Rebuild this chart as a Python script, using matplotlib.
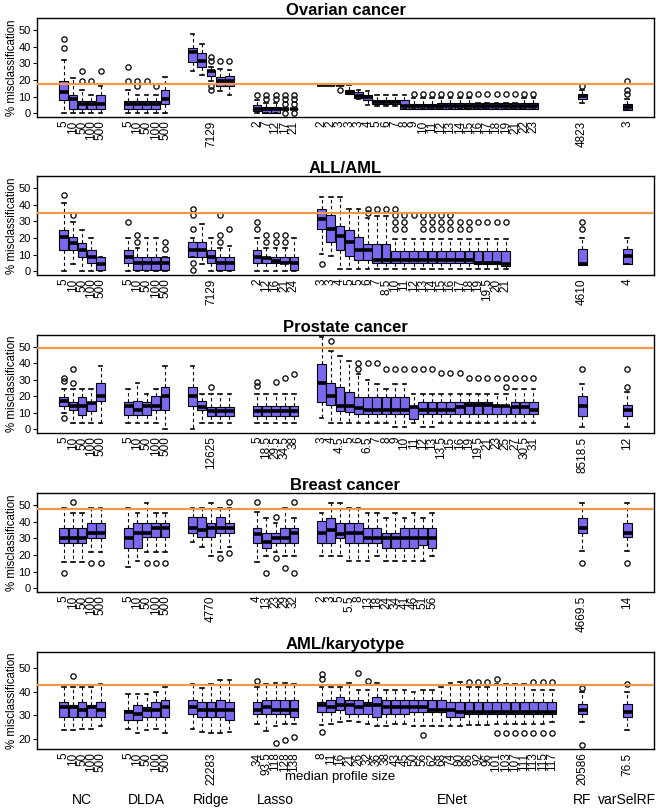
import matplotlib
matplotlib.use("Agg")
import matplotlib.pyplot as plt
from matplotlib.transforms import blended_transform_factory

plt.rcParams['font.family'] = ['Liberation Sans', 'DejaVu Sans']

# ---------------- data ----------------
GROUPS = ["NC", "DLDA", "Ridge", "Lasso", "ENet", "RF", "varSelRF"]
SIZE_LABELS = ["5", "10", "50", "100", "500"]
TITLES = ["Ovarian cancer", "ALL/AML", "Prostate cancer", "Breast cancer", "AML/karyotype"]
BASELINES = [17.6, 34.8, 49.3, 47.6, 43.0]
RIDGE_LABELS = ["7129", "7129", "12625", "4770", "22283"]
RF_LABELS = ["4823", "4610", "8518.5", "4669.5", "20586"]
VSRF_LABELS = ["3", "4", "12", "14", "76.5"]
LASSO_LABELS = [["2", "7", "12", "17", "21"],
                ["2", "12", "16", "21", "24"],
                ["5", "18.5", "29.5", "34.5", "38"],
                ["4", "13", "23", "29", "32"],
                ["34", "93.5", "118", "128", "138"]]
ENET_LABELS = [
    ["2", "2", "3", "3", "3", "4", "5", "6", "7", "8", "9", "10", "11", "12", "13", "14",
     "15", "16", "17", "18", "19", "21", "22", "23"],
    ["3", "3", "4", "5", "5", "6", "7", "8.5", "10", "11", "12", "13", "14", "15", "16",
     "17", "18", "19", "19.5", "20", "21"],
    ["3", "4", "4.5", "5", "6", "6.5", "7", "8", "9", "10", "11", "12", "13", "13.5", "15",
     "16", "19", "19.5", "21", "23", "25", "27", "30.5", "31"],
    ["2", "3", "5", "5.5", "8", "13", "18", "24", "34", "41", "46", "51", "56"],
    ["8", "11", "16", "21", "26", "32", "36", "38", "43", "45", "50", "56", "62", "68", "74",
     "80", "86", "92", "96", "101", "103", "107", "111", "113", "115", "117"],
]

# Ovarian cancer: order NC(5), DLDA(5), Ridge(5), Lasso(5), ENet(24), RF, varSelRF
OV_LO = [0, 0, 0, 0, 0, 0, 0, 0, 0, 0, 25.3, 23.3, 19.7, 13.3, 11.2, 0, 0, 0, 2.8, 2.8,
         16.9, 16.9, 16.9, 11.4, 8.5, 4.8, 4.6, 4.6, 4.6, 2.8, 2.8, 2.8, 2.8, 2.8, 2.8, 2.8,
         2.8, 2.8, 2.8, 2.8, 2.8, 2.8, 2.8, 2.8, 6.2, 2.2]
OV_Q1 = [8.2, 2.8, 2.8, 2.8, 2.8, 2.8, 2.8, 2.8, 2.8, 5.6, 30.9, 27.9, 22.3, 16.7, 16.7,
         1.6, 0.2, 0.2, 2.8, 2.8,
         16.9, 16.9, 16.9, 11.4, 9.4, 8.0, 5.6, 5.6, 5.6, 2.8, 2.8, 2.8, 2.8, 2.8, 2.8, 2.8,
         2.8, 2.8, 2.8, 2.8, 2.8, 2.8, 2.8, 2.8, 8.9, 2.2]
OV_MED = [12.7, 8.6, 5.6, 5.6, 5.6, 5.6, 5.6, 5.6, 5.6, 8.6, 36.7, 31.3, 25.3, 19.7, 19.7,
          2.8, 2.8, 2.8, 2.8, 2.8,
          16.9, 16.9, 16.9, 12.9, 10.6, 9.6, 6.6, 6.6, 6.6, 4.2, 4.2, 4.2, 4.2, 4.4, 4.4, 4.4,
          4.4, 4.4, 4.4, 4.4, 4.4, 4.4, 4.4, 4.4, 10.3, 3.7]
OV_Q3 = [19.7, 10.8, 7.6, 7.6, 10.8, 7.6, 7.6, 7.6, 7.6, 14.3, 39.4, 36.3, 25.9, 21.9, 22.3,
         5.2, 3.8, 3.8, 2.8, 2.8,
         16.9, 16.9, 16.9, 14.3, 12.7, 11.0, 8.2, 8.2, 8.2, 8.2, 5.6, 5.6, 5.6, 6.0, 6.0, 6.0,
         6.0, 6.0, 6.0, 6.0, 6.0, 6.0, 6.0, 6.0, 11.9, 5.8]
OV_HI = [32.0, 21.0, 13.9, 11.0, 16.7, 14.3, 11.0, 11.0, 11.0, 21.7, 47.4, 41.8, 27.7, 26.7,
         25.9, 8.2, 6.2, 6.2, 2.8, 2.8,
         16.9, 16.9, 16.9, 17.0, 14.3, 13.7, 11.0, 11.0, 11.0, 11.0, 9.2, 9.2, 9.2, 9.2, 9.2,
         9.2, 9.2, 6.0, 6.0, 6.0, 6.0, 6.0, 9.2, 9.2, 14.3, 8.7]
OV_OUT = [[39, 44.8], [], [19.7, 25.3], [19.7], [25.3],
          [19.7, 27.7], [16.7, 19.7], [19.7], [16.7], [],
          [], [], [31.3, 33.7, 16.7, 14.3], [31.3], [31.3],
          [11.2], [8.6, 11.2], [8.6, 11.2], [0.2, 5.6, 8.6, 11.2], [0.2, 5.6, 8.6, 11.2],
          [], [], [13.9], [], [], [], [], [], [], [],
          [11.8], [11.8], [11.8], [11.8], [11.8], [11.8], [11.8], [11.8], [11.8], [11.8],
          [11.8], [11.8], [11.8], [11.8],
          [16.7], [11.4, 14.3, 19.7]]

# ALL/AML: NC, DLDA, Ridge, Lasso, ENet(21), RF, varSelRF
AL_LO = [0, 4.5, 0, 0, 0, 0, 0, 0, 0, 0, 8.9, 4.5, 0, 0, 0, 0, 0, 0, 0, 0,
         10.5, 9.1, 1.6, 1.6, 1.6, 1.6, 1.6, 1.6, 1.6, 1.6, 1.6, 1.6, 1.6, 1.6, 1.6, 1.6,
         1.6, 1.6, 1.6, 1.6, 1.6, 4.0, 4.6]
AL_Q1 = [13, 13, 8.9, 4.9, 0.6, 4.9, 0.6, 0.6, 0.6, 0.6, 8.9, 8.9, 4.9, 0.6, 0.6,
         4.9, 4.9, 4.9, 4.9, 0.6,
         25.3, 17.4, 13.0, 9.1, 7.1, 7.1, 5.1, 5.1, 5.1, 5.1, 5.1, 5.1, 5.1, 5.1, 5.1, 5.1,
         5.1, 4.5, 4.5, 4.5, 3.0, 4.0, 4.6]
AL_MED = [20.9, 17, 13, 8.9, 4.5, 8.9, 4.9, 4.9, 4.9, 4.9, 13, 13, 8.9, 4.9, 4.9,
          8.9, 7.9, 6.5, 4.9, 4.9,
          31.6, 25.3, 21.3, 17.4, 13.0, 13.0, 7.1, 7.1, 7.1, 7.1, 7.1, 7.1, 7.1, 7.1, 7.1,
          7.1, 7.1, 5.1, 5.1, 5.1, 4.5, 4.6, 9.1]
AL_Q3 = [24.9, 20.9, 17, 13, 8.9, 13, 8.9, 8.9, 8.9, 8.9, 17.4, 17.4, 13, 8.9, 8.9,
         13, 8.9, 8.9, 8.9, 8.9,
         37.5, 33.6, 27.3, 24.9, 20.9, 16.4, 16.4, 16.4, 12.5, 12.5, 12.5, 12.5, 12.5, 12.5,
         12.5, 12.5, 12.5, 12.5, 12.5, 12.5, 12.5, 13.5, 13.5]
AL_HI = [41.1, 29.6, 24.7, 20, 8.9, 20, 13.8, 20, 20, 8.9, 20, 28.3, 20, 13.8, 15,
         20, 13.8, 13.8, 13.8, 20,
         44.7, 44.7, 44.7, 37.5, 37.5, 32.2, 33.2, 33.2, 19.4, 19.4, 19.4, 19.4, 19.4, 19.4,
         19.4, 19.4, 19.4, 19.4, 19.4, 19.4, 19.4, 20, 20]
AL_OUT = [[46], [33.6], [], [], [],
          [29.6], [17.4, 21.7], [], [], [13.4, 17.4],
          [25.7, 33.6, 37.5, 4.9, 0.6], [], [], [17.4, 21.7, 33.6], [25.7],
          [25.7, 29.6], [17.4, 21.7], [17.4, 21.7], [17.4, 21.7], [],
          [4.5], [], [], [], [], [35.2, 37.5], [37.5], [37.5],
          [25.3, 29.6, 33.6, 37.5], [25.3, 29.6, 33.6], [33.6], [25.3, 29.6, 33.6],
          [25.3, 29.6, 33.6], [25.3, 29.6, 33.6], [25.3, 29.6, 33.6], [25.3, 29.6],
          [25.3, 29.6], [29.6], [29.6], [29.6], [29.6],
          [25.3, 29.6], []]

# Prostate cancer: NC, DLDA, Ridge, Lasso, ENet(24), RF, varSelRF
PR_LO = [10, 3.8, 3.8, 3.8, 3.8, 3.8, 3.8, 3.8, 3.8, 0, 0, 3.8, 3.8, 3.8, 3.8,
         3.8, 3.8, 3.8, 3.8, 3.8,
         6.8, 3.8, 3.8, 3.8, 3.8, 3.8, 3.8, 3.8, 1.4, 1.4, 3.8, 1.4, 1.4, 3.8, 3.8, 3.8,
         3.8, 3.8, 3.8, 3.8, 3.8, 3.8, 3.8, 3.8, 1.4, 1.4]
PR_Q1 = [14.4, 12, 8.8, 11.4, 17.4, 8.8, 8.8, 8.8, 12, 12, 14, 12, 8.4, 8.4, 8.4,
         8.4, 8.4, 8.4, 8.4, 8.4,
         16.8, 14.8, 11.4, 10.4, 9.4, 9.4, 9.4, 9.4, 9.4, 9.4, 6.4, 9.4, 9.4, 9.4, 9.4, 9.4,
         9.4, 9.4, 9.4, 9.4, 9.4, 9.4, 9.4, 9.4, 8.4, 8.4]
PR_MED = [17.4, 14.4, 14.4, 15.8, 20, 14.4, 12, 14.4, 14.4, 20, 20, 13.4, 11.4, 11.4, 11.4,
          11.4, 11.4, 11.4, 11.4, 11.4,
          28.4, 20, 14, 14, 12.8, 12, 12, 12, 12, 12, 13.4, 12, 12, 12, 12, 13.4,
          14.8, 14.8, 14.8, 14, 14, 13.4, 13.4, 12, 14, 12]
PR_Q3 = [19.8, 16.4, 19.8, 16.4, 28.4, 16.4, 17.4, 16.4, 20, 25.4, 25.4, 17.4, 13.4, 13.4,
         13.4, 14, 14, 14, 14, 14,
         39.4, 28.4, 25.4, 22.8, 19.4, 19.4, 19.4, 19.4, 19.4, 19.4, 14.4, 16.8, 16.8, 16.8,
         16.8, 16.8, 16.8, 16.8, 16.8, 14.8, 14.4, 16.8, 16.8, 16.8, 20, 14.8]
PR_HI = [24.4, 24.4, 24.4, 24.4, 38.4, 24.4, 28.4, 21.4, 24.4, 38.4, 38.4, 21.4, 21.4,
         21.4, 21.4, 21.4, 21.4, 21.4, 21.4, 21.4,
         56, 47.4, 44.4, 41.4, 33.4, 30, 27.4, 24.4, 27.4, 27.4, 21.4, 21.4, 21.4, 21.4,
         21.4, 21.4, 21.4, 21.4, 21.4, 21.4, 21.4, 24.4, 24.4, 24.4, 27.4, 22.4]
PR_OUT = [[29.4, 31.4, 6.8], [28.4, 36.4], [], [], [],
          [], [], [], [], [],
          [], [], [25.4], [], [],
          [26.4, 28.8], [], [28.8], [31], [33.8],
          [], [53.4], [], [], [36.8, 40.4], [40.4], [40.4], [36.4], [36.4], [36.4],
          [36.4], [36.4], [36.4], [34], [34], [34], [31], [31], [31], [31], [25.4, 31],
          [31], [31], [31],
          [36.4], [25.4, 36.4]]

# Breast cancer: NC, DLDA, Ridge, Lasso, ENet(13), RF, varSelRF
BR_LO = [16, 16, 16, 22, 22, 12.6, 16.6, 22, 22, 22, 27.6, 25, 19.4, 22, 25,
         16, 19.4, 22, 19.4, 19.4,
         19.4, 19.4, 19.4, 16.4, 16.4, 16.4, 19.4, 16.4, 16.4, 16.4, 16.4, 16.4, 19.4,
         22.4, 22.4]
BR_Q1 = [27, 27, 27, 30, 30, 24, 24, 30.6, 30.6, 30.6, 33.4, 30.6, 30.6, 33.4, 33.4,
         27, 24, 27, 27, 27,
         27, 27.4, 30.4, 27.4, 27.4, 27.4, 27.4, 24.4, 24.4, 24.4, 24.4, 26, 24.4,
         33.4, 30.6]
BR_MED = [30.4, 30.4, 30.4, 33.4, 33.4, 30.4, 33.4, 33.4, 36.4, 36.4, 36.4, 35, 36.4,
          36.4, 36.4, 32.4, 27.6, 30.4, 30.4, 33.4,
          33.4, 35, 32.6, 33.4, 33.4, 30.4, 30.4, 30.4, 30.4, 30.4, 30.4, 30.4, 30.4,
          36.4, 33.4]
BR_Q3 = [36.4, 36.4, 36.4, 39.4, 39.4, 36.4, 39.4, 39.4, 39.4, 39.4, 42.6, 42.6, 39.4,
         42.6, 39.4, 36.4, 33.4, 33.4, 36.4, 36.4,
         40.4, 42.4, 39.4, 39.4, 39.4, 36.4, 36.4, 33.4, 33.4, 36.4, 36.4, 36.4, 36.4,
         42.4, 39.4]
BR_HI = [48, 45, 45, 48, 48, 48, 45, 51, 45, 45, 48, 48, 51, 48, 48,
         46, 42, 39, 48, 42,
         45, 51, 51, 48, 48, 45, 45, 42, 45, 42, 45, 42, 45,
         51, 51]
BR_OUT = [[9], [52], [], [15], [15],
          [], [], [15], [15], [15],
          [], [], [], [18], [52, 21.4],
          [52], [9], [42.6, 18], [12], [52, 9],
          [], [], [], [], [], [], [], [], [], [], [], [], [],
          [15.4], [15.4]]

# AML/karyotype: NC, DLDA, Ridge, Lasso, ENet(26), RF, varSelRF
AK_LO = [23.7, 23.7, 24, 24, 25.4, 24.4, 22.3, 23.7, 24, 22.3, 24.4, 23, 22.3, 22.3, 23,
         26.5, 23.4, 25.4, 26.5, 26.5,
         26, 26.5, 27.2, 27.5, 27.2, 26.5, 25.4, 25.4, 26.5, 26.5, 25.4, 25.4, 25.4, 25.4,
         25.4, 25.4, 25.8, 25.8, 25.8, 26.5, 26.5, 26.5, 26.5, 26.5, 26.5, 27.2,
         27.2, 23.7]
AK_Q1 = [29.3, 29.3, 29.3, 29.3, 29.3, 28.2, 28.2, 29.3, 29.3, 29.3, 30.5, 29.3, 29.3,
         29.3, 28.2, 30.5, 30.5, 30.5, 30.5, 29.3,
         31.5, 31.5, 32.4, 30.5, 30.5, 30.5, 29.3, 30.5, 30.5, 30.5, 31.5, 31.5, 31.5, 31.5,
         29.3, 29.3, 30.5, 30.5, 30.5, 30.5, 30.5, 30.5, 30.5, 30.5, 30.5, 30.5,
         30.5, 29.3]
AK_MED = [33.6, 33.6, 32.4, 33.6, 32.4, 31.5, 30.5, 32.4, 32.4, 33.6, 33.6, 32.4, 32.4,
          32.4, 32.4, 32.4, 33.6, 32.4, 32.4, 32.4,
          34.6, 33.6, 34.6, 34.6, 33.6, 34.6, 34.6, 33.6, 33.6, 33.6, 33.6, 33.6, 32.4,
          32.4, 32.4, 31.5, 31.5, 31.5, 31.5, 31.5, 31.5, 31.5, 31.5, 31.5, 31.5, 31.5,
          32.4, 31.5]
AK_Q3 = [35.7, 34.6, 35.7, 34.6, 35.7, 32.4, 34.6, 33.6, 35.7, 36.7, 36.7, 35.7, 35.7,
         36.7, 35.7, 35.7, 36.7, 36.7, 36.7, 36.7,
         35.7, 36.7, 37.8, 36.7, 36.7, 35.7, 37.8, 36.7, 36.7, 36.7, 36.7, 36.7, 36.7, 36.7,
         35.7, 35.7, 35.7, 35.7, 35.7, 35.7, 35.7, 35.7, 35.7, 35.7, 35.7, 35.7,
         35.0, 35.0]
AK_HI = [42, 42, 42, 42, 43.5, 39.2, 39.2, 39.2, 40, 42, 43.5, 41.4, 43.5, 45.2, 45.2,
         42, 43.5, 43.8, 43.8, 43.5,
         42, 42, 42, 43.8, 40.6, 40.6, 43.8, 40.6, 40.6, 40.6, 40, 40.6, 40.6, 42, 43.8,
         44.2, 42, 42, 42, 43.5, 43.5, 43.5, 43.5, 40.6, 40.6, 40.6,
         40, 40]
AK_OUT = [[], [46.7], [], [], [],
          [], [], [], [], [],
          [], [], [], [], [],
          [44.5], [], [18.4], [19.7], [20.6],
          [45.6, 47.7, 23], [], [], [], [48], [44.5], [], [], [], [], [], [21.8], [], [],
          [], [], [44.2], [44.2], [44.2], [45.6, 22.3], [22.3], [22.3], [22.3],
          [44.2, 22.3], [44.2, 22.3], [44.2, 22.3],
          [41.4, 17.3], [43.5]]

PANELS = [
    (OV_LO, OV_Q1, OV_MED, OV_Q3, OV_HI, OV_OUT),
    (AL_LO, AL_Q1, AL_MED, AL_Q3, AL_HI, AL_OUT),
    (PR_LO, PR_Q1, PR_MED, PR_Q3, PR_HI, PR_OUT),
    (BR_LO, BR_Q1, BR_MED, BR_Q3, BR_HI, BR_OUT),
    (AK_LO, AK_Q1, AK_MED, AK_Q3, AK_HI, AK_OUT),
]
YLIMS = [(-2.2, 57.2)] * 4 + [(15.7, 56.9)]
YTICKS = [[0, 10, 20, 30, 40, 50]] * 4 + [[20, 30, 40, 50]]

# ---------------- layout ----------------
W, H = 663, 811
AX_TOPS = [18, 176, 335, 493, 652]
AX_BOTS = [117, 275, 433, 592, 749]
AX_L, AX_R = 37, 654
GROUP_STARTS = [1, 8, 15, 22, 29]
RF_POS, VSRF_POS = 57.3, 62.2
BOX_COLOR = '#7B68EE'
LINE_COLOR = '#EE9A4D'

fig = plt.figure(figsize=(W / 100, H / 100), dpi=100)

for p in range(5):
    lo, q1, med, q3, hi, out = PANELS[p]
    n_enet = len(ENET_LABELS[p])
    pos = []
    for g in range(4):
        pos += [GROUP_STARTS[g] + k for k in range(5)]
    pos += [GROUP_STARTS[4] + k for k in range(n_enet)]
    pos += [RF_POS, VSRF_POS]

    ax = fig.add_axes([AX_L / W, 1 - AX_BOTS[p] / H, (AX_R - AX_L) / W,
                       (AX_BOTS[p] - AX_TOPS[p]) / H])
    stats = []
    for i in range(len(pos)):
        stats.append(dict(med=med[i], q1=q1[i], q3=q3[i], whislo=lo[i], whishi=hi[i],
                          fliers=out[i]))
    ax.bxp(stats, positions=pos, widths=0.95, capwidths=0.4, patch_artist=True,
           showfliers=True,
           boxprops=dict(facecolor=BOX_COLOR, edgecolor='black', linewidth=0.8),
           medianprops=dict(color='black', linewidth=2.6, solid_capstyle='butt'),
           whiskerprops=dict(color='black', linewidth=0.8, linestyle=(0, (3, 2.5))),
           capprops=dict(color='black', linewidth=1.2),
           flierprops=dict(marker='o', markerfacecolor='none', markeredgecolor='black',
                           markersize=3.8, markeredgewidth=0.9))
    ax.axhline(BASELINES[p], color=LINE_COLOR, linewidth=1.6, zorder=10)

    # tick labels
    tpos, tlab = [], []
    for g in range(2):
        tpos += [GROUP_STARTS[g] + k for k in range(5)]
        tlab += SIZE_LABELS
    tpos.append(GROUP_STARTS[2] + 2)
    tlab.append(RIDGE_LABELS[p])
    tpos += [GROUP_STARTS[3] + k for k in range(5)]
    tlab += LASSO_LABELS[p]
    tpos += [GROUP_STARTS[4] + k for k in range(n_enet)]
    tlab += ENET_LABELS[p]
    tpos += [RF_POS, VSRF_POS]
    tlab += [RF_LABELS[p], VSRF_LABELS[p]]
    ax.set_xticks(tpos)
    ax.set_xticklabels(tlab, rotation=90, fontsize=8.5)
    ax.tick_params(axis='x', length=0, pad=2.5)
    ax.set_xlim(-1.9, 65.1)
    ax.set_ylim(*YLIMS[p])
    ax.set_yticks(YTICKS[p])
    ax.tick_params(axis='y', length=3, width=0.8, labelsize=8, pad=1.5)
    ax.set_ylabel('% misclassification', fontsize=8.3)
    ax.yaxis.set_label_coords(-0.031, 0.5)
    ax.set_title(TITLES[p], fontsize=12, fontweight='bold', pad=1.5)
    for s in ax.spines.values():
        s.set_linewidth(1.0)
        s.set_color('black')

    if p == 4:
        tr = blended_transform_factory(ax.transData, fig.transFigure)
        label_x = [GROUP_STARTS[0] + 2, GROUP_STARTS[1] + 2, GROUP_STARTS[2] + 2,
                   GROUP_STARTS[3] + 2, 43.2, RF_POS, VSRF_POS]
        for gx, gname in zip(label_x, GROUPS):
            ax.text(gx, 1 - 800 / H, gname, transform=tr, ha='center', va='center',
                    fontsize=10)
        ax.text(31.0, 1 - 777 / H, 'median profile size', transform=tr, ha='center',
                va='center', fontsize=9.5)

fig.savefig('out.png', dpi=100)
